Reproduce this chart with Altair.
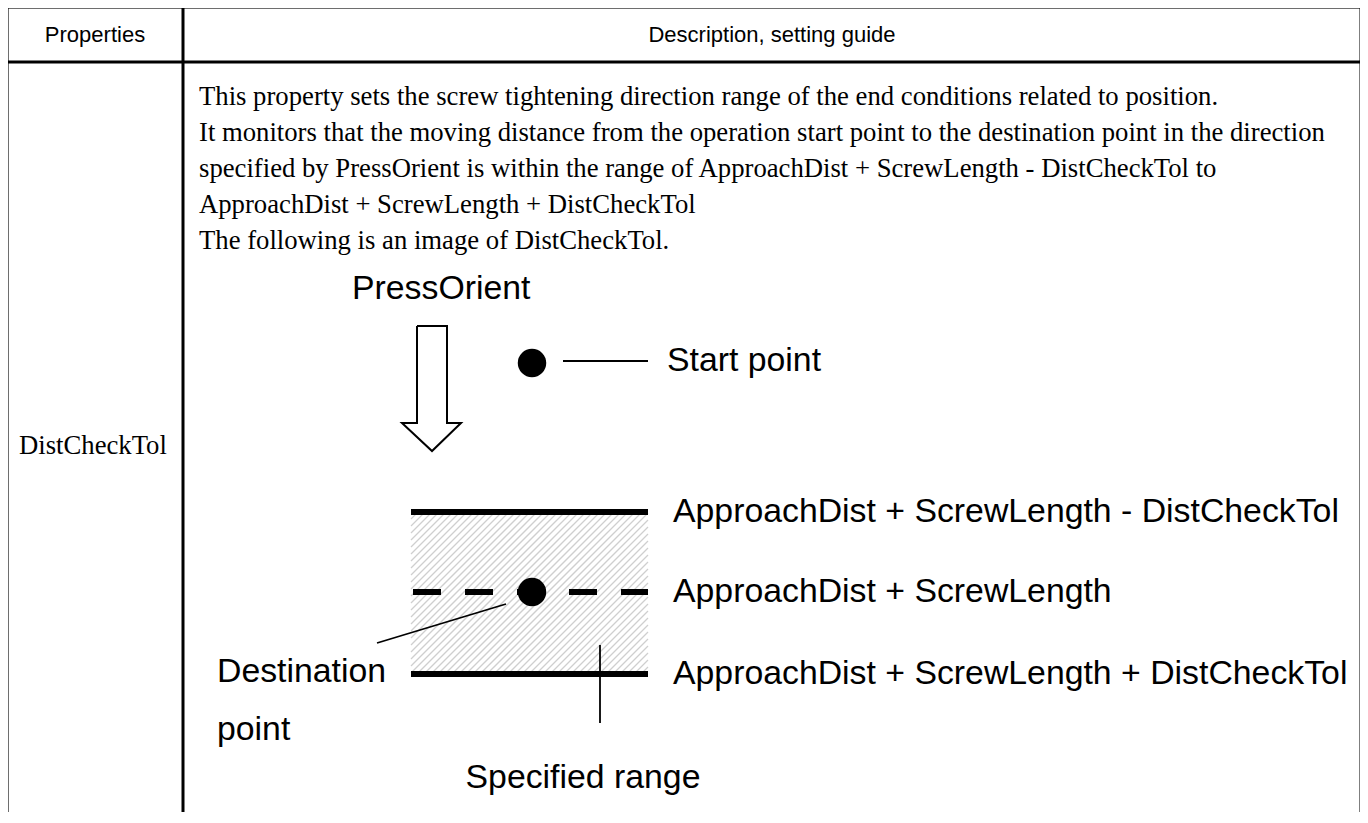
import altair as alt
import pandas as pd

# ---------------- content ----------------
header_labels = ["Properties", "Description, setting guide"]
property_name = ["DistCheckTol"]
body_lines = [
    "This property sets the screw tightening direction range of the end conditions related to position.",
    "It monitors that the moving distance from the operation start point to the destination point in the direction",
    "specified by PressOrient is within the range of ApproachDist + ScrewLength - DistCheckTol to",
    "ApproachDist + ScrewLength + DistCheckTol",
    "The following is an image of DistCheckTol.",
]
diagram_labels = [
    "PressOrient",
    "Start point",
    "ApproachDist + ScrewLength - DistCheckTol",
    "ApproachDist + ScrewLength",
    "ApproachDist + ScrewLength + DistCheckTol",
    "Destination",
    "point",
    "Specified range",
]

# ---------------- layout (reference pixel frame) ----------------
W, H = 1352, 804
X0, Y0 = 8, 8
xs = alt.Scale(domain=[X0, X0 + W])
ys = alt.Scale(domain=[Y0, Y0 + H], reverse=True)

col_left, col_sep, col_right = 7, 183, 1361
row_top, row_head = 7, 62
bottom = 823

header_x = [95, 772]
header_y = [35, 35]
body_x = 199
body_y = [97, 133, 169, 205, 241]
prop_x, prop_y = 19, 446

label_x = [352, 667, 673, 673, 673, 217, 217, 583]
label_y = [289, 361, 512, 592, 674, 672, 730, 778]
label_align = ["left", "left", "left", "left", "left", "left", "left", "center"]

# hatched band
band_x0, band_x1, band_y0, band_y1 = 411, 648, 512, 674


def XQ(f):
    return alt.X(f, type="quantitative", scale=xs, axis=None)


def YQ(f):
    return alt.Y(f, type="quantitative", scale=ys, axis=None)


def segs(rows):
    return pd.DataFrame(rows, columns=["x", "y", "x2", "y2"])


def rule_layer(df, width, color="black", dash=None):
    kw = dict(color=color, strokeWidth=width, clip=True)
    if dash:
        kw["strokeDash"] = dash
    return alt.Chart(df).mark_rule(**kw).encode(
        x=XQ("x"), y=YQ("y"), x2="x2", y2="y2"
    )


# table grid
table = rule_layer(segs([
    (col_left, row_top, col_right, row_top),
    (col_left, row_head, col_right, row_head),
    (col_left, row_top, col_left, bottom),
    (col_sep, row_top, col_sep, bottom),
    (col_right, row_top, col_right, bottom),
]), 3)

# hatch lines generated inside the band
step = 7
n_hatch = int(((band_x1 + band_y1) - (band_x0 + band_y0)) / step)
hatch = (
    alt.Chart(alt.sequence(start=1, stop=n_hatch, step=1, as_="i"))
    .transform_calculate(c=f"{band_x0 + band_y0} + datum.i * {step}")
    .transform_calculate(
        x=f"max({band_x0}, datum.c - {band_y1})",
        x2=f"min({band_x1}, datum.c - {band_y0})",
    )
    .transform_calculate(y="datum.c - datum.x", y2="datum.c - datum.x2")
    .mark_rule(color="#cfcfcf", strokeWidth=1.3)
    .encode(x=XQ("x"), y=YQ("y"), x2="x2", y2="y2")
)

thick = rule_layer(segs([
    (band_x0, band_y0, band_x1, band_y0),
    (band_x0, band_y1, band_x1, band_y1),
]), 6)
dashed = rule_layer(segs([(413, 592, band_x1, 592)]), 6, dash=[28, 24])
thin = rule_layer(segs([
    (563, 361, 648, 361),
    (506, 604, 377, 643),
    (600, 645, 600, 723),
]), 1.8)

# hollow arrow (polygon outline)
arrow_df = pd.DataFrame({
    "x": [417, 447, 447, 461, 432, 402, 417, 417],
    "y": [326, 326, 423, 423, 451, 423, 423, 326],
    "o": list(range(8)),
})
arrow = alt.Chart(arrow_df).mark_line(
    color="black", strokeWidth=2, strokeJoin="miter"
).encode(x=XQ("x"), y=YQ("y"), order="o:Q")

dots = alt.Chart(pd.DataFrame({"x": [532, 532], "y": [363, 592]})).mark_circle(
    color="black", opacity=1, size=810
).encode(x=XQ("x"), y=YQ("y"))

# texts
hdr = alt.Chart(pd.DataFrame({"t": header_labels, "x": header_x, "y": header_y})).mark_text(
    font="Liberation Sans", fontSize=22, align="center", baseline="middle", color="black"
).encode(x=XQ("x"), y=YQ("y"), text="t:N")

body = alt.Chart(pd.DataFrame({"t": body_lines, "y": body_y, "x": [body_x] * len(body_lines)})).mark_text(
    font="Liberation Serif", fontSize=26.7, align="left", baseline="middle", color="black"
).encode(x=XQ("x"), y=YQ("y"), text="t:N")

prop = alt.Chart(pd.DataFrame({"t": property_name, "x": [prop_x], "y": [prop_y]})).mark_text(
    font="Liberation Serif", fontSize=26.7, align="left", baseline="middle", color="black"
).encode(x=XQ("x"), y=YQ("y"), text="t:N")

lab_df = pd.DataFrame({"t": diagram_labels, "x": label_x, "y": label_y, "a": label_align})
lab_left = alt.Chart(lab_df[lab_df.a == "left"]).mark_text(
    font="Liberation Sans", fontSize=33.8, align="left", baseline="middle", color="black"
).encode(x=XQ("x"), y=YQ("y"), text="t:N")
lab_center = alt.Chart(lab_df[lab_df.a == "center"]).mark_text(
    font="Liberation Sans", fontSize=33.8, align="center", baseline="middle", color="black"
).encode(x=XQ("x"), y=YQ("y"), text="t:N")

chart = alt.layer(
    hatch, table, thick, dashed, thin, arrow, dots, hdr, body, prop, lab_left, lab_center
).properties(
    width=W, height=H, padding=0, autosize=alt.AutoSizeParams(type="none")
).configure_view(stroke=None).configure(background="white")

chart.save("out.html", embed_options={"renderer": "svg", "actions": False})
